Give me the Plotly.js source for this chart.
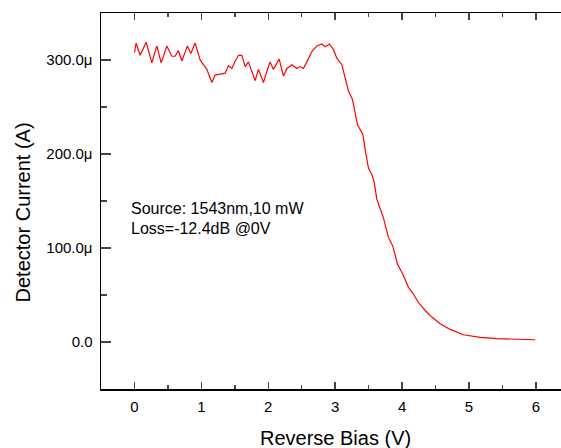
<!DOCTYPE html>
<html>
<head>
<meta charset="utf-8">
<script src="https://cdn.plot.ly/plotly-3.0.1.min.js"></script>
<style>html,body{margin:0;padding:0;background:#fff;}#chart{width:561px;height:448px;}</style>
</head>
<body>
<div id="chart"></div>
<script>
// Reverse bias (V)
const bias = [0.00,0.025,0.085,0.175,0.26,0.335,0.40,0.484,0.559,0.608,0.658,0.709,0.792,0.843,0.907,0.982,1.031,1.082,1.157,1.206,1.281,1.356,1.405,1.456,1.506,1.555,1.605,1.655,1.704,1.755,1.804,1.854,1.928,1.979,2.028,2.078,2.163,2.227,2.278,2.353,2.428,2.477,2.526,2.577,2.652,2.726,2.801,2.851,2.915,2.975,3.025,3.100,3.149,3.199,3.259,3.299,3.334,3.374,3.414,3.448,3.498,3.549,3.583,3.623,3.662,3.677,3.722,3.797,3.862,3.931,4.012,4.096,4.170,4.245,4.345,4.445,4.570,4.719,4.918,5.167,5.417,5.665,5.99];
// Detector current (microamps)
const current = [308,318,305,319,297,315,297,315,304,304,310,299,315,307,318,300,295,290,276,284,285,286,294,291,299,305,305,293,298,288,278,290,276,288,298,290,301,283,291,295,291,293,291,298,309,315,317,314,317,311,302,295,282,267,258,245,231,226,221,205,185,178,170,152,145,141,132,111,102,83,72,58,51,42,33.5,26.5,19.4,13.4,7.7,4.9,3.5,3.2,2.4];
const yTickVals = [0,100,200,300];
const yTickText = ['0.0','100.0\u03bc','200.0\u03bc','300.0\u03bc'];
const xTickVals = [0,1,2,3,4,5,6];
const noteLines = ['Source: 1543nm,10 mW','Loss=-12.4dB @0V'];
const xTitle = 'Reverse Bias (V)';
const yTitle = 'Detector Current (A)';

const font = 'Arial, "Liberation Sans", sans-serif';
const trace = {x: bias, y: current, type: 'scatter', mode: 'lines',
  line: {color: '#ff0000', width: 1.2}, hoverinfo: 'skip'};

const layout = {
  width: 561, height: 448,
  margin: {l: 101, r: 0, t: 13, b: 59},
  paper_bgcolor: '#fff', plot_bgcolor: '#fff',
  showlegend: false,
  font: {family: font, color: '#000'},
  xaxis: {range: [-0.5, 6.376], tickvals: xTickVals, ticks: 'inside', ticklen: 7, tickwidth: 1.5,
    minor: {dtick: 0.5, tick0: 0, ticks: 'inside', ticklen: 4, tickwidth: 1.5, showgrid: false},
    showline: true, linewidth: 1.5, linecolor: '#000', mirror: 'ticks', showgrid: false, zeroline: false,
    tickfont: {size: 15, family: font, color: '#000'}, ticklabelstandoff: 3},
  yaxis: {range: [-50, 350], tickvals: yTickVals, ticktext: yTickText, ticks: 'inside', ticklen: 10, tickwidth: 1.5,
    minor: {dtick: 50, tick0: 0, ticks: 'inside', ticklen: 6, tickwidth: 1.5, showgrid: false},
    showline: true, linewidth: 1.5, linecolor: '#000', mirror: false, showgrid: false, zeroline: false,
    tickfont: {size: 15, family: font, color: '#000'}, ticklabelstandoff: 4},
  annotations: [
    {text: xTitle, xref: 'paper', yref: 'paper', x: 0.509, y: -0.130, showarrow: false,
      xanchor: 'center', yanchor: 'middle', font: {size: 20, family: font, color: '#000'}},
    {text: yTitle, xref: 'paper', yref: 'paper', x: -0.170, y: 0.469, showarrow: false, textangle: -90,
      xanchor: 'center', yanchor: 'middle', font: {size: 20, family: font, color: '#000'}},
    {text: noteLines[0], xref: 'paper', yref: 'paper', x: 0.061, y: 0.481, showarrow: false,
      xanchor: 'left', yanchor: 'middle', font: {size: 16, family: font, color: '#000'}},
    {text: noteLines[1], xref: 'paper', yref: 'paper', x: 0.061, y: 0.426, showarrow: false,
      xanchor: 'left', yanchor: 'middle', font: {size: 16, family: font, color: '#000'}}
  ]
};
Plotly.newPlot('chart', [trace], layout, {displayModeBar: false, staticPlot: true});
</script>
</body>
</html>
